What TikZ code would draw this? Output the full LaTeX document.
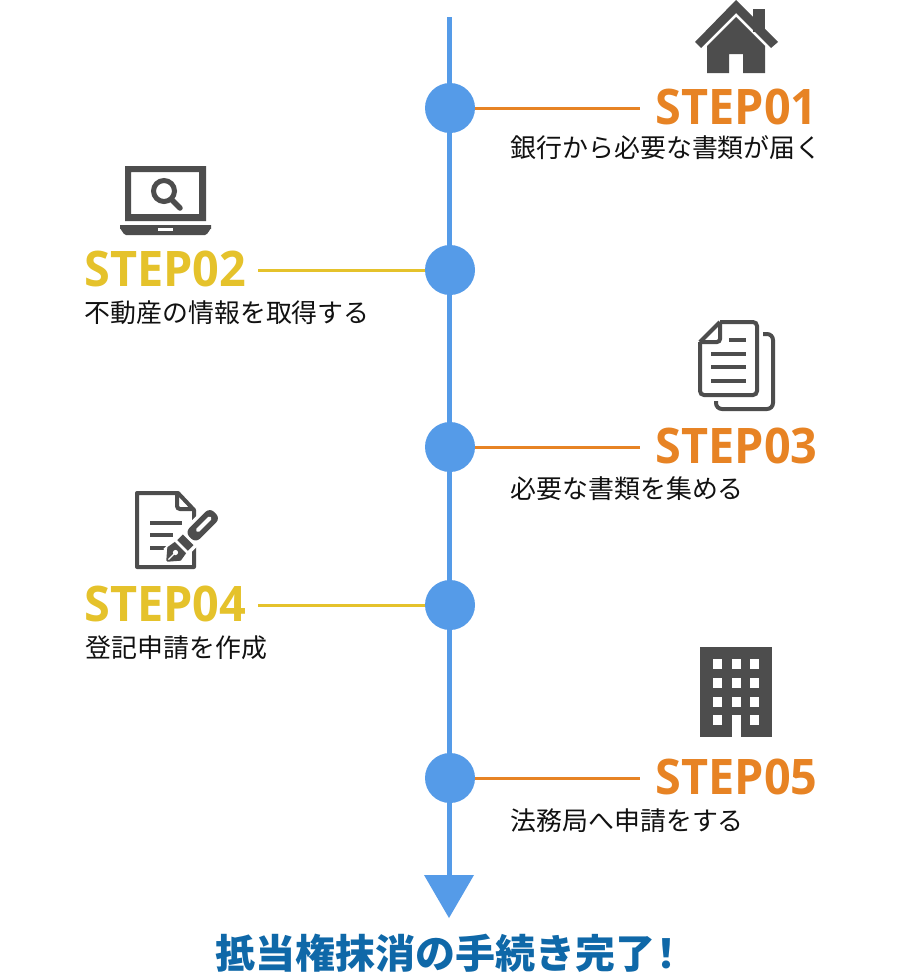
\documentclass[tikz,border=0pt]{standalone}
\usepackage{fontspec}
\newfontfamily\jpfont{Noto Sans CJK JP}
\newfontfamily\stepfont{Open Sans}
\definecolor{orangec}{HTML}{E78324}
\definecolor{yellowc}{HTML}{E5C22B}
\definecolor{bluec}{HTML}{559BE8}
\definecolor{titlec}{HTML}{0F68A8}
\definecolor{grayc}{HTML}{4D4D4D}
\definecolor{textc}{HTML}{111111}
\tikzset{
  dot/.style={circle,fill=bluec,minimum size=50pt,inner sep=0pt},
  steplabel/.style={inner ysep=0pt,inner xsep=15.5pt,font=\stepfont\bfseries\fontsize{49}{49}\selectfont},
  leftlabel/.style={steplabel,inner xsep=11.5pt,anchor=east,text=yellowc},
  rightlabel/.style={steplabel,anchor=west,text=orangec},
  desc/.style={anchor=west,inner sep=0pt,text=textc,font=\jpfont\fontsize{25.9}{26}\selectfont},
  link/.style={line width=3pt},
  icoline/.style={draw=grayc,line width=4pt,fill=none},
}
\newcommand{\stepname}[1]{\scalebox{0.955}[1]{#1}}
\begin{document}
\begin{tikzpicture}[x=1pt,y=-1pt]
\useasboundingbox[fill=white] (0,0) rectangle (900,978);
% axis
\coordinate (top) at (449,17);
\coordinate (axisend) at (449,880);
\draw[bluec,line width=5pt] (top) -- (axisend);
\fill[bluec] (424,875) -- (474,875) -- (449,918) -- cycle;
\node[dot] (c1) at (450,108) {};
\node[dot] (c2) at (450,270) {};
\node[dot] (c3) at (450,447) {};
\node[dot] (c4) at (450,605) {};
\node[dot] (c5) at (450,778) {};
% step labels
\node[rightlabel] (s1) at (640,107) {\stepname{STEP01}};
\node[leftlabel] (s2) at (258,269) {\stepname{STEP02}};
\node[rightlabel] (s3) at (640,446) {\stepname{STEP03}};
\node[leftlabel] (s4) at (258,604) {\stepname{STEP04}};
\node[rightlabel] (s5) at (640,777) {\stepname{STEP05}};
% connectors
\draw[link,orangec] (c1.east) -- (c1.east -| s1.west);
\draw[link,yellowc] (c2.west) -- (c2.west -| s2.east);
\draw[link,orangec] (c3.east) -- (c3.east -| s3.west);
\draw[link,yellowc] (c4.west) -- (c4.west -| s4.east);
\draw[link,orangec] (c5.east) -- (c5.east -| s5.west);
% descriptions
\node[desc] (d1) at (510.5,148) {銀行から必要な書類が届く};
\node[desc] (d2) at (84.5,313) {不動産の情報を取得する};
\node[desc] (d3) at (510.5,489) {必要な書類を集める};
\node[desc] (d4) at (85.5,648) {登記申請を作成};
\node[desc] (d5) at (510.5,821) {法務局へ申請をする};
\node[anchor=west,inner sep=0pt,text=titlec,font=\jpfont\bfseries\fontsize{40}{40}\selectfont] (t) at (215,953) {抵当権抹消の手続き完了\kern-9pt！};
% house
\fill[grayc] (753,9) rectangle (765,32);
\fill[grayc] (736,0) -- (778,42) -- (771,48) -- (736,13) -- (701,48) -- (695,42) -- cycle;
\fill[grayc,even odd rule] (736,17) -- (765,46) -- (765,73) -- (743,73) -- (743,54) -- (729,54) -- (729,73) -- (707,73) -- (707,46) -- cycle;
% laptop
\fill[grayc,even odd rule] (125,166) rectangle (206,221) (131,172) rectangle (199,214);
\fill[grayc] (120,225) -- (211,225) -- (211,229) to[out=90,in=0] (205,235) -- (126,235) to[out=180,in=90] (120,229) -- cycle;
\fill[white] (158,228) rectangle (173,231);
\draw[grayc,line width=5pt] (164,191) circle[radius=10.5];
\draw[grayc,line width=5.5pt,line cap=round] (172,200) -- (180,208);
% documents
\draw[icoline,rounded corners=4pt] (720,322) -- (757,322) -- (757,395) -- (700,395) -- (700,342);
\draw[icoline,line join=round] (700,342) -- (720,322);
\draw[icoline,rounded corners=3pt] (720,322) -- (720,342) -- (700,342);
\draw[icoline] (729,340) -- (746,340) (711,354) -- (746,354) (711,367) -- (746,367) (711,381) -- (746,381);
\draw[icoline,rounded corners=6pt] (763,334) -- (773,334) -- (773,409) -- (716,409) -- (716,401);
% document with pen
\draw[icoline,line join=round] (194,530) -- (194,510) -- (178,493) -- (137,493) -- (137,567) -- (194,567) -- (194,545);
\draw[icoline,rounded corners=3pt] (177,493) -- (177,509) -- (194,509);
\draw[icoline] (150,523) -- (182,523) (150,535) -- (173,535) (150,548) -- (167,548);
\begin{scope}[shift={(167,561)},rotate=45]
  \fill[white] (6,-11) rectangle (70,11);
  \fill[grayc] (0,-1) -- (10,-9.5) -- (19,-8) -- (19,8) -- (10,9.5) -- (0,1) -- cycle;
  \fill[white] (12,0) circle[radius=2.6];
  \draw[white,line width=1.2pt] (2,0) -- (12,0);
  \fill[grayc] (22,-7.5) rectangle (30,7.5);
  \fill[grayc,rounded corners=6pt] (33,-7.5) rectangle (68,7.5);
  \fill[white,rounded corners=1.5pt] (42,-2) rectangle (62,2);
\end{scope}
% building
\fill[grayc] (700,647) rectangle (772,737);
\foreach \wy in {659,678,697,715}{
  \foreach \wx in {713,732,750}{
    \fill[white] (\wx,\wy) rectangle ++(9,9.5);
  }
}
\fill[white] (732,715) rectangle (741,737);
\end{tikzpicture}
\end{document}
